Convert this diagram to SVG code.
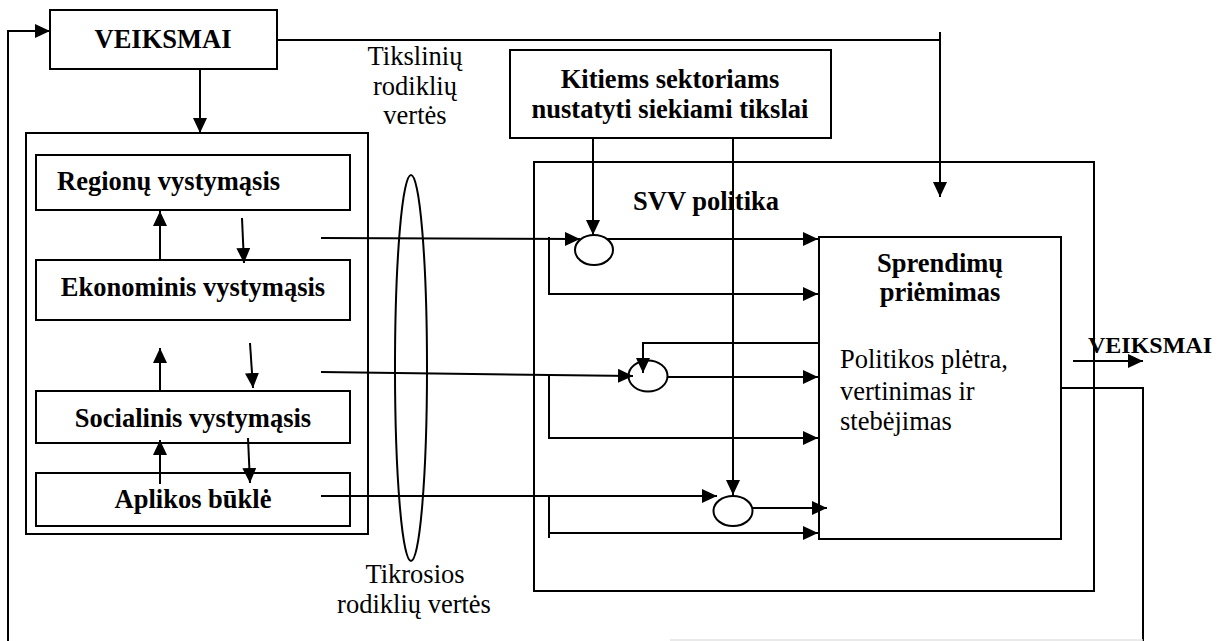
<svg xmlns="http://www.w3.org/2000/svg" width="1220" height="641" viewBox="0 0 1220 641">
<style>
.box{fill:none;stroke:#000;stroke-width:2}
.ln{fill:none;stroke:#000;stroke-width:2}
.arr{marker-end:url(#ah)}
.b{font-family:"Liberation Serif","Times New Roman",serif;font-weight:bold;font-size:26.5px;fill:#000}
.r{font-family:"Liberation Serif","Times New Roman",serif;font-size:26.5px;fill:#000}
.c{text-anchor:middle}
</style>
<defs>
<marker id="ah" markerUnits="userSpaceOnUse" markerWidth="16" markerHeight="14" refX="15" refY="7" orient="auto">
<path d="M0,0 L15,7 L0,14 z" fill="#000"/>
</marker>
</defs>
<rect width="1220" height="641" fill="#fff"/>

<g id="n-veiksmai">
<rect class="box" x="50" y="10" width="227" height="59"/>
<text class="b c" x="163" y="48">VEIKSMAI</text>
</g>

<g id="n-left-container">
<rect class="box" x="26" y="133" width="342" height="401"/>
</g>
<g id="n-regionu">
<rect class="box" x="36" y="155" width="314" height="55"/>
<text class="b" x="57" y="190">Regionų vystymąsis</text>
</g>
<g id="n-ekonominis">
<rect class="box" x="36" y="260" width="314" height="60"/>
<text class="b c" x="193" y="296">Ekonominis vystymąsis</text>
</g>
<g id="n-socialinis">
<rect class="box" x="36" y="391" width="314" height="52"/>
<text class="b c" x="193" y="427">Socialinis vystymąsis</text>
</g>
<g id="n-aplikos">
<rect class="box" x="36" y="473" width="314" height="53"/>
<text class="b c" x="193" y="508">Aplikos būklė</text>
</g>

<g id="n-rodikliai">
<ellipse class="ln" cx="411" cy="368" rx="16" ry="193"/>
<text class="r c" x="415" y="65">Tikslinių</text>
<text class="r c" x="415" y="95">rodiklių</text>
<text class="r c" x="415" y="124">vertės</text>
<text class="r c" x="415" y="583">Tikrosios</text>
<text class="r c" x="414" y="613">rodiklių vertės</text>
</g>

<g id="n-kitiems">
<rect class="box" x="510" y="50" width="321" height="88"/>
<text class="b c" x="670" y="88">Kitiems sektoriams</text>
<text class="b c" x="670" y="118">nustatyti siekiami tikslai</text>
</g>

<g id="n-svv">
<rect class="box" x="534" y="162" width="560" height="429"/>
<text class="b" x="633" y="210">SVV politika</text>
</g>

<g id="n-sprendimu">
<rect class="box" x="819" y="237" width="242" height="302"/>
<text class="b c" x="940" y="272">Sprendimų</text>
<text class="b c" x="940" y="301">priėmimas</text>
<text class="r" x="840" y="368">Politikos plėtra,</text>
<text class="r" x="840" y="400">vertinimas ir</text>
<text class="r" x="840" y="430">stebėjimas</text>
</g>

<g id="n-c1"><ellipse class="ln" cx="594" cy="250" rx="19" ry="15"/></g>
<g id="n-c2"><ellipse class="ln" cx="648" cy="376" rx="19.5" ry="15.5"/></g>
<g id="n-c3"><ellipse class="ln" cx="733" cy="511" rx="19.5" ry="15"/></g>

<g id="n-veiksmai-out">
<text class="b" x="1088" y="353" style="font-size:24px" textLength="124" lengthAdjust="spacingAndGlyphs">VEIKSMAI</text>
</g>

<g id="connectors">
<path class="ln arr" d="M8,641 V31 H50"/>
<path class="ln" d="M1061,388 H1143 V641"/>
<path d="M670,640 H1143" fill="none" stroke="#e2e2e2" stroke-width="1.5"/>
<path class="ln arr" d="M200,69 V133"/>
<path class="ln" d="M277,40 H940"/>
<path class="ln arr" d="M940,32 V197"/>

<path class="ln arr" d="M160,260 V211"/>
<path class="ln arr" d="M242,218 L244,263"/>
<path class="ln arr" d="M160,391 V348"/>
<path class="ln arr" d="M250,343 L253,388"/>
<path class="ln arr" d="M160,484 V440"/>
<path class="ln arr" d="M248,438 L250,483"/>

<path class="ln arr" d="M321,238 L580,239"/>
<path class="ln arr" d="M549,237 V294 H818"/>
<path class="ln arr" d="M607,239 H818"/>
<path class="ln arr" d="M593,138 V235"/>
<path class="ln arr" d="M733,138 V495"/>

<path class="ln arr" d="M321,372 L633,376"/>
<path class="ln arr" d="M549,374 V438 H818"/>
<path class="ln arr" d="M668,377 H818"/>
<path class="ln arr" d="M819,343 H643 V373"/>

<path class="ln arr" d="M321,496 H717"/>
<path class="ln" d="M549,496 V538"/>
<path class="ln arr" d="M549,533 H818"/>
<path class="ln arr" d="M752,508 H827"/>

<path class="ln arr" d="M1073,361 H1143"/>
</g>
</svg>
